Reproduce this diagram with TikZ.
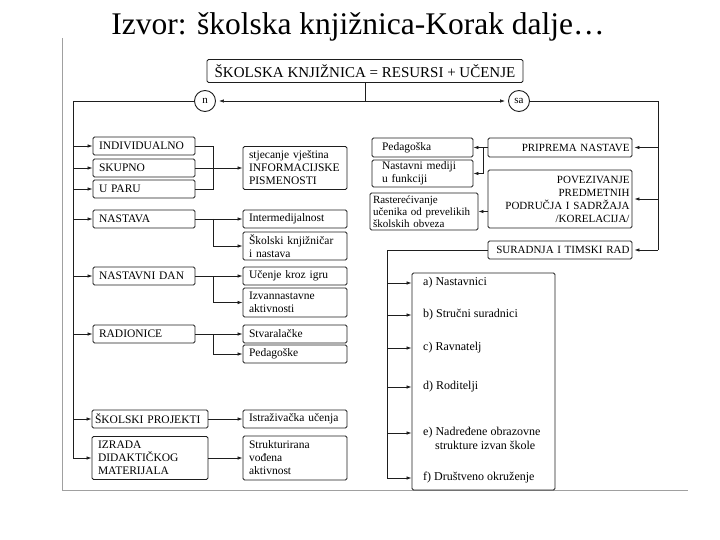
\documentclass[tikz,border=0pt]{standalone}
\usepackage{fontspec}
\setmainfont{Liberation Serif}
\usetikzlibrary{arrows.meta,positioning,calc}
\definecolor{scanink}{RGB}{30,30,30}
\definecolor{scangray}{RGB}{160,160,160}
\hyphenpenalty=10000
\tikzset{
  bx/.style={draw=scanink, fill=white, line width=0.9pt, rounded corners=1.5pt,
             inner xsep=6pt, inner ysep=1pt, text width=#1, align=left,
             minimum height=18pt, font=\fontsize{11.5}{13}\selectfont},
  bx/.default=90pt,
  rbx/.style={bx=139pt, inner xsep=2.5pt, align=right, font=\fontsize{11}{13}\selectfont},
  circ/.style={draw=scanink, circle, line width=0.9pt, inner sep=0pt,
               minimum size=21pt, font=\fontsize{11}{11}\selectfont},
  itm/.style={anchor=west, inner sep=0pt, font=\fontsize{12}{13}\selectfont},
  ln/.style={scanink, line width=0.7pt},
  arr/.style={-{Latex[length=5pt,width=3.5pt]}, scanink, line width=0.7pt},
  frm/.style={scangray, line width=1pt},
}

\begin{document}
\begin{tikzpicture}[x=1pt, y=-1pt]
  \useasboundingbox (0,0) rectangle (720,540);
  \node (ttl) [anchor=base, font=\fontsize{31.5}{32}\selectfont] at (358,35)
    {Izvor: školska knjižnica-Korak dalje…};
  \draw[frm] (62,38) -- (62,490) -- (688,490);

  % top
  \node (top) [bx, text width=, minimum width=316pt, minimum height=23pt, align=center,
    font=\fontsize{15}{15}\selectfont] at (365,71) {ŠKOLSKA KNJIŽNICA = RESURSI + UČENJE};
  \node (n) [circ] at (205,101) {n};
  \node (sa) [circ] at (519,101) {sa};
  \coordinate (j) at (top.south |- n);
  \draw[ln] (top.south) -- (j);
  \draw[arr, shorten >=3pt] (j) -- (n);
  \draw[arr, shorten >=3pt] (j) -- (sa);

  % left side
  \node (indiv) [bx] at (144,146) {INDIVIDUALNO};
  \node (skup) [bx] at (144,168) {SKUPNO};
  \node (upar) [bx] at (144,189) {U PARU};
  \node (nast) [bx] at (144,219) {NASTAVA};
  \node (ndan) [bx] at (144,276) {NASTAVNI DAN};
  \node (radi) [bx] at (144,334) {RADIONICE};
  \node (proj) [bx=110pt, inner xsep=3pt] at (150,419) {ŠKOLSKI PROJEKTI};
  \node (izrada) [bx=104pt, minimum height=43pt] at (150,458)
    {IZRADA\\DIDAKTIČKOG\\MATERIJALA};

  \node (stjec) [bx=92pt, minimum height=43pt] at (295,168)
    {stjecanje vještina\\INFORMACIJSKE\\PISMENOSTI};
  \node (inter) [bx=92pt] at (295,219) {Intermedijalnost};
  \node (sknj) [bx=92pt, minimum height=28pt] at (295,246) {Školski knjižničar\\i nastava};
  \node (ucenje) [bx=92pt] at (295,276) {Učenje kroz igru};
  \node (izvan) [bx=92pt, minimum height=29pt] at (295,302.5) {Izvannastavne\\aktivnosti};
  \node (stvar) [bx=92pt] at (295,334) {Stvaralačke};
  \node (pedag) [bx=92pt] at (295,354) {Pedagoške};
  \node (istr) [bx=92pt] at (295,419) {Istraživačka učenja};
  \node (strukt) [bx=92pt, minimum height=44pt] at (295,458)
    {Strukturirana\\vođena\\aktivnost};

  \coordinate (lt) at (73,101);
  \draw[ln] (n) -- (lt) -- (lt |- izrada.west);
  \foreach \b in {indiv,skup,upar,nast,ndan,radi,proj,izrada}
    \draw[arr] (lt |- \b.west) -- (\b.west);

  \coordinate (b1) at (213,0);
  \draw[ln] (indiv.east) -- (indiv.east -| b1) -- (upar.east -| b1) -- (upar.east);
  \draw[arr] (skup) -- (stjec);
  \draw[arr] (nast) -- (inter);
  \draw[arr] (nast.east -| b1) |- (sknj.west);
  \draw[arr] (ndan) -- (ucenje);
  \draw[arr] (ndan.east -| b1) |- (izvan.west);
  \draw[arr] (radi) -- (stvar);
  \draw[arr] (radi.east -| b1) |- (pedag.west);
  \draw[arr] (proj) -- (istr);
  \draw[arr] (izrada) -- (strukt);

  % right side
  \node (prip) [rbx, minimum height=19pt] at (560,147.5) {PRIPREMA NASTAVE};
  \node (povez) [rbx, minimum height=58pt] at (560,199)
    {POVEZIVANJE\\PREDMETNIH\\PODRUČJA I SADRŽAJA\\/KORELACIJA/};
  \node (surad) [rbx] at (560,250) {SURADNJA I TIMSKI RAD};
  \node (pedsk) [bx=81pt, inner xsep=10pt, minimum height=19pt] at (422.5,147.5) {Pedagoška};
  \node (medij) [bx=81pt, inner xsep=10pt, minimum height=27pt] at (422.5,173.5)
    {Nastavni mediji\\u funkciji};
  \node (raster) [bx=102pt, inner xsep=3pt, minimum height=37pt,
    font=\fontsize{11}{12}\selectfont] at (424,211.5)
    {Rasterećivanje\\učenika od prevelikih\\školskih obveza};

  \coordinate (rt) at (658,101);
  \draw[ln] (sa) -- (rt) -- (rt |- surad.east);
  \foreach \b in {prip,povez,surad}
    \draw[arr, shorten >=2pt] (rt |- \b.east) -- (\b.east);

  \coordinate (b2) at (483,0);
  \draw[arr] (prip) -- (pedsk);
  \draw[arr] (prip.west -| b2) |- (medij.east);
  \draw[arr] (povez.west |- raster.east) -- (raster.east);

  % list of partners
  \node (lst) [draw=scanink, line width=0.9pt, rounded corners=1.5pt,
    minimum width=143pt, minimum height=217pt] at (483.5,381.5) {};
  \node (a) [itm] at (423,283) {a) Nastavnici};
  \node (b) [itm] at (423,315) {b) Stručni suradnici};
  \node (c) [itm] at (423,348) {c) Ravnatelj};
  \node (d) [itm] at (423,387) {d) Roditelji};
  \node (e) [itm] at (423,433) {e) Nadređene obrazovne};
  \node (e2) [itm] at (435,445) {strukture izvan škole};
  \node (f) [itm] at (423,478) {f) Društveno okruženje};

  \coordinate (st) at (387,250);
  \draw[ln] (surad) -- (st |- surad) -- (st |- f.west);
  \foreach \i in {a,b,c,d,e,f}
    \draw[arr] (st |- \i.west) -- (lst.west |- \i.west);
\end{tikzpicture}
\end{document}
